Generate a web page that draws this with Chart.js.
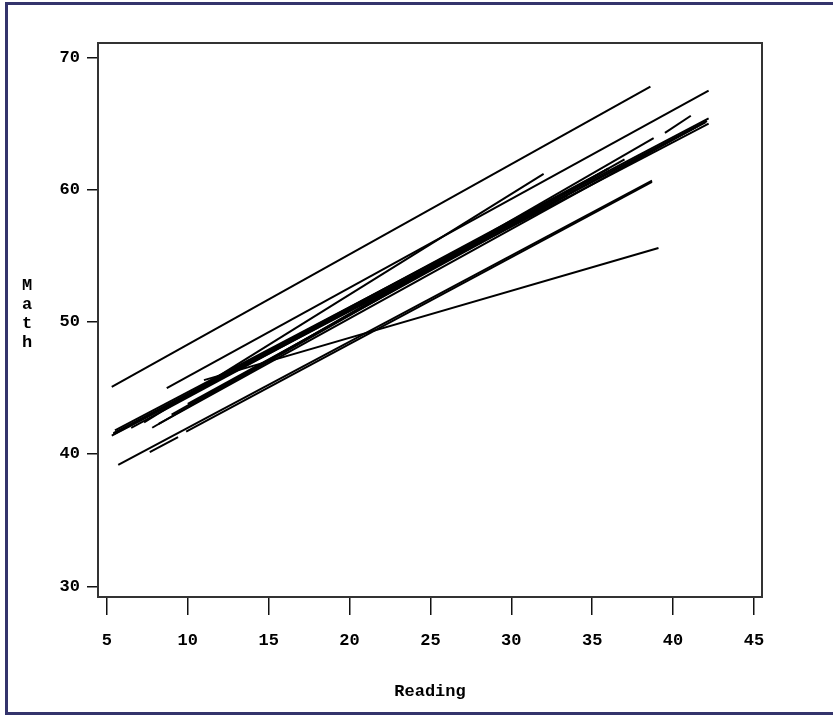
<!DOCTYPE html>
<html lang="en">
<head>
    <meta charset="UTF-8">
    <title>Math vs Reading</title>
    <script src="https://cdn.jsdelivr.net/npm/chart.js"></script>
    <style>
        body {
            margin: 0;
            background: white;
        }
        canvas {
            display: block;
        }
    </style>
</head>
<body>
    <canvas id="chart" width="833" height="717"></canvas>

    <script>
        // One fitted line per student: start (reading, math) and end (reading, math)
        const startReading = [5.3, 8.7, 5.3, 5.4, 5.5, 5.4, 39.5, 7.8, 7.3, 5.7, 9.9, 7.65, 11.0, 7.5, 8.2, 10.0, 9.0, 6.5, 11.5];
        const startMath    = [45.1, 45.0, 41.4, 41.6, 41.8, 41.5, 64.3, 42.0, 42.4, 39.2, 41.7, 40.15, 45.6, 42.9, 42.3, 43.8, 43.0, 42.0, 44.6];
        const endReading   = [38.6, 42.2, 42.2, 42.1, 42.2, 42.0, 41.1, 38.8, 32.0, 38.7, 38.7, 9.4, 39.1, 36.0, 41.5, 33.5, 37.0, 30.5, 36.0];
        const endMath      = [67.8, 67.5, 65.0, 65.2, 65.4, 65.1, 65.6, 63.9, 61.2, 60.7, 60.6, 41.3, 55.6, 61.6, 64.8, 59.6, 62.3, 57.8, 61.6];

        const xTicks = [5, 10, 15, 20, 25, 30, 35, 40, 45];
        const yTicks = [30, 40, 50, 60, 70];

        const datasets = startReading.map((x, i) => ({
            data: [
                { x: x, y: startMath[i] },
                { x: endReading[i], y: endMath[i] }
            ],
            showLine: true,
            borderColor: '#000',
            borderWidth: 2,
            pointRadius: 0,
            pointHoverRadius: 0
        }));

        const tickFont = { family: "'Liberation Mono', monospace", size: 17, weight: 'bold' };

        // page frame, plot box and the stacked "Math" label
        const framePlugin = {
            id: 'frame',
            beforeDraw(chart) {
                const ctx = chart.ctx;
                ctx.save();
                ctx.fillStyle = 'white';
                ctx.fillRect(0, 0, chart.width, chart.height);
                ctx.fillStyle = '#34346c';
                ctx.fillRect(5, 2, 3, chart.height - 4);
                ctx.fillRect(5, 2, chart.width - 5, 3);
                ctx.fillRect(5, chart.height - 5, chart.width - 5, 3);
                ctx.restore();
            },
            afterDraw(chart) {
                const ctx = chart.ctx;
                const a = chart.chartArea;
                ctx.save();
                ctx.strokeStyle = '#333';
                ctx.lineWidth = 2;
                ctx.strokeRect(a.left, a.top, a.right - a.left, a.bottom - a.top);

                ctx.fillStyle = '#000';
                ctx.font = "bold 17px 'Liberation Mono', monospace";
                ctx.textAlign = 'center';
                ctx.textBaseline = 'middle';
                ['M', 'a', 't', 'h'].forEach((ch, i) => {
                    ctx.fillText(ch, 27, 286 + i * 19);
                });
                ctx.restore();
            }
        };

        new Chart(document.getElementById('chart'), {
            type: 'scatter',
            data: { datasets: datasets },
            plugins: [framePlugin],
            options: {
                responsive: false,
                animation: false,
                devicePixelRatio: 1,
                layout: {
                    padding: { top: 43, right: 71, left: 0, bottom: 0 }
                },
                plugins: {
                    legend: { display: false },
                    tooltip: { enabled: false }
                },
                scales: {
                    x: {
                        type: 'linear',
                        min: 4.45,
                        max: 45.5,
                        afterBuildTicks: s => { s.ticks = xTicks.map(v => ({ value: v })); },
                        afterFit: s => { s.height = 120; },
                        border: { display: false },
                        grid: {
                            drawOnChartArea: false,
                            drawTicks: true,
                            tickLength: 18,
                            color: '#111',
                            lineWidth: 1.5
                        },
                        ticks: {
                            color: '#000',
                            font: tickFont,
                            padding: 16,
                            maxRotation: 0,
                            autoSkip: false
                        },
                        title: {
                            display: true,
                            text: 'Reading',
                            color: '#000',
                            font: tickFont,
                            padding: { top: 0, bottom: 15 }
                        }
                    },
                    y: {
                        type: 'linear',
                        min: 29.2,
                        max: 71.1,
                        afterBuildTicks: s => { s.ticks = yTicks.map(v => ({ value: v })); },
                        afterFit: s => { s.width = 98; },
                        border: { display: false },
                        grid: {
                            drawOnChartArea: false,
                            drawTicks: true,
                            tickLength: 11,
                            color: '#111',
                            lineWidth: 1.5
                        },
                        ticks: {
                            color: '#000',
                            font: tickFont,
                            padding: 7,
                            autoSkip: false
                        }
                    }
                }
            }
        });
    </script>
</body>
</html>
